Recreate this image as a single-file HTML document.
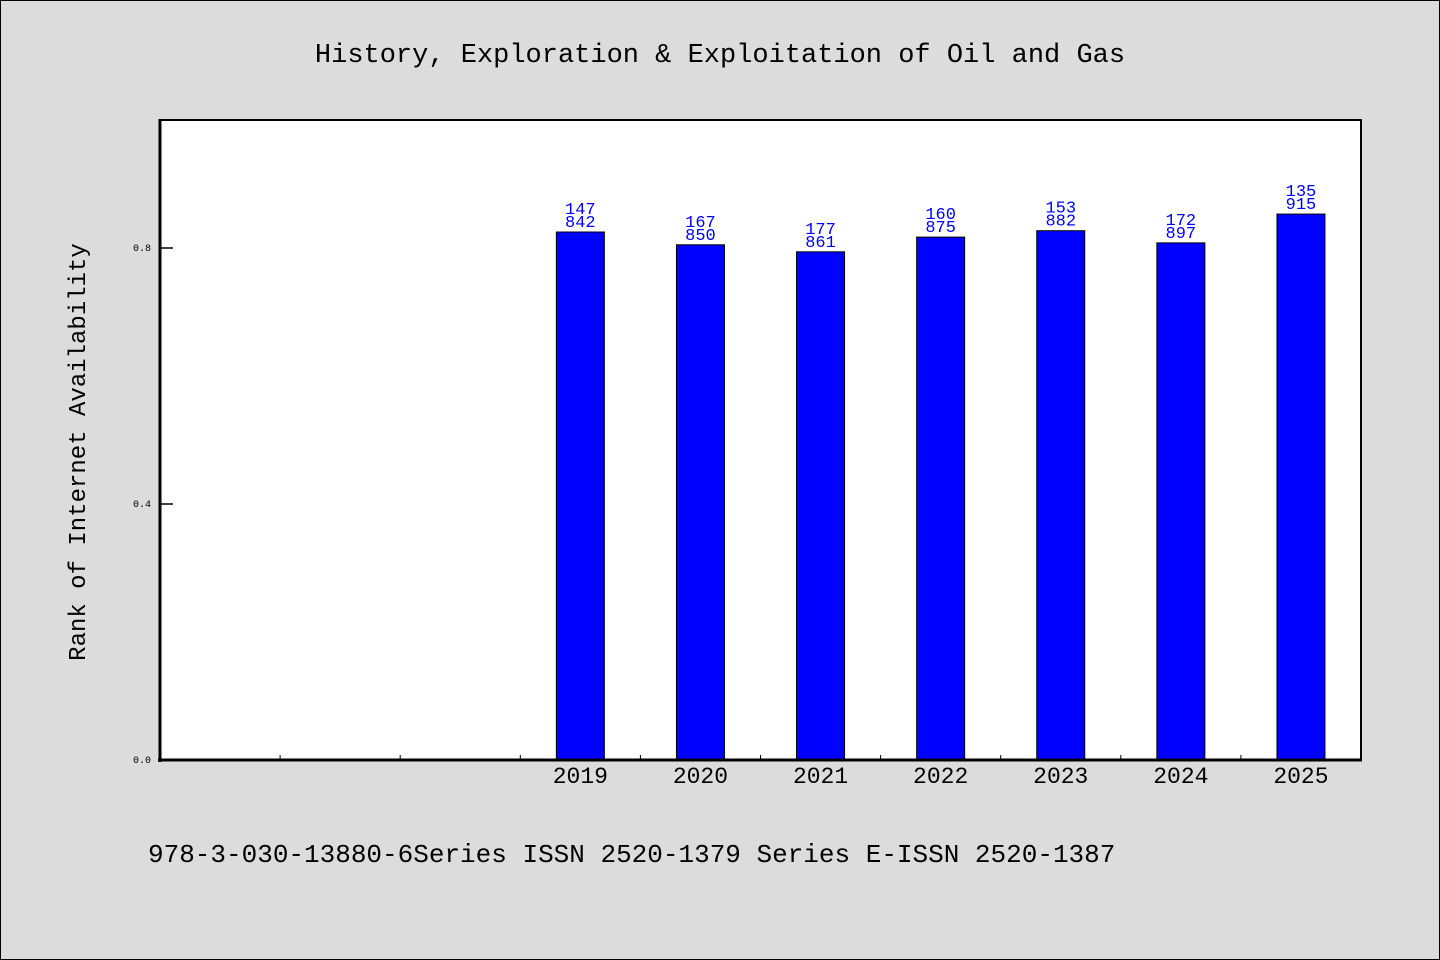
<!DOCTYPE html>
<html><head><meta charset="utf-8"><style>
html,body{margin:0;padding:0;background:#dcdcdc;overflow:hidden;width:1440px;height:960px;}
svg{display:block;}
svg text{font-family:"WenQuanYi Zen Hei Mono","Liberation Mono",monospace;}
</style></head><body>
<svg id="chart" width="1440" height="960" xmlns="http://www.w3.org/2000/svg">
<rect x="0.5" y="0.5" width="1439" height="959" fill="#dcdcdc" stroke="#000"/>
<text x="720" y="62" text-anchor="middle" font-size="27">History, Exploration &amp; Exploitation of Oil and Gas</text>
<rect x="160" y="120" width="1201" height="640" fill="#fff" stroke="#000" stroke-width="2"/>
<text transform="translate(85,452) rotate(-90)" text-anchor="middle" font-size="24">Rank of Internet Availability</text>
<text x="148" y="862" font-size="26">978-3-030-13880-6Series ISSN 2520-1379 Series E-ISSN 2520-1387</text>
<g id="marks"></g>
<line x1="160" y1="119" x2="160" y2="762" stroke="#000" stroke-width="3"/>
<line x1="158" y1="760" x2="1362" y2="760" stroke="#000" stroke-width="3"/>
</svg>
<script>
const categories = ["", "", "", "2019", "2020", "2021", "2022", "2023", "2024", "2025"];
const values = [null, null, null, 0.825, 0.805, 0.794, 0.817, 0.827, 0.808, 0.853];
const labelTop = ["", "", "", "147", "167", "177", "160", "153", "172", "135"];
const labelBottom = ["", "", "", "842", "850", "861", "875", "882", "897", "915"];
const yTicks = [0.0, 0.4, 0.8];
const yTickLabels = ["0.0", "0.4", "0.8"];

const NS = "http://www.w3.org/2000/svg";
const g = document.getElementById('marks');
const x0 = 160, x1 = 1361, y0 = 760, y1 = 120;
const slot = (x1 - x0) / categories.length;
const xc = i => x0 + slot * (i + 0.5);
const ys = v => y0 - (v / 1.0) * (y0 - y1);
function mk(tag, attrs) { const e = document.createElementNS(NS, tag); for (const k in attrs) e.setAttribute(k, attrs[k]); g.appendChild(e); return e; }

yTicks.forEach((t, i) => {
  const l = mk('line', {x1: x0, x2: x0 + 13, y1: ys(t), y2: ys(t), stroke: '#000', 'stroke-width': 1.5});
  
  
  const tx = mk('text', {x: x0 - 9, y: ys(t) + 3, 'text-anchor': 'end', 'font-size': 10});
  
  
  tx.textContent = yTickLabels[i];
});
for (let i = 1; i < categories.length; i++) {
  const xt = x0 + slot * i;
  const l = mk('line', {x1: xt, x2: xt, y1: y0, y2: y0 - 5, stroke: '#000', 'stroke-width': 1});
  
  
}
categories.forEach((c, i) => {
  if (values[i] == null) return;
  const bw = 48, top = ys(values[i]);
  const r = mk('rect', {x: xc(i) - bw / 2, y: top, width: bw, height: y0 - top, fill: '#0000ff', stroke: '#000', 'stroke-width': 1});
  
  
  const t1 = mk('text', {x: xc(i), y: top - 18, 'text-anchor': 'middle', 'font-size': 17, fill: '#0000ff'});
  
  
  t1.textContent = labelTop[i];
  const t2 = mk('text', {x: xc(i), y: top - 5, 'text-anchor': 'middle', 'font-size': 17, fill: '#0000ff'});
  
  
  t2.textContent = labelBottom[i];
  const xl = mk('text', {x: xc(i), y: 783, 'text-anchor': 'middle', 'font-size': 23});
  
  
  xl.textContent = c;
});
</script>
</body></html>
